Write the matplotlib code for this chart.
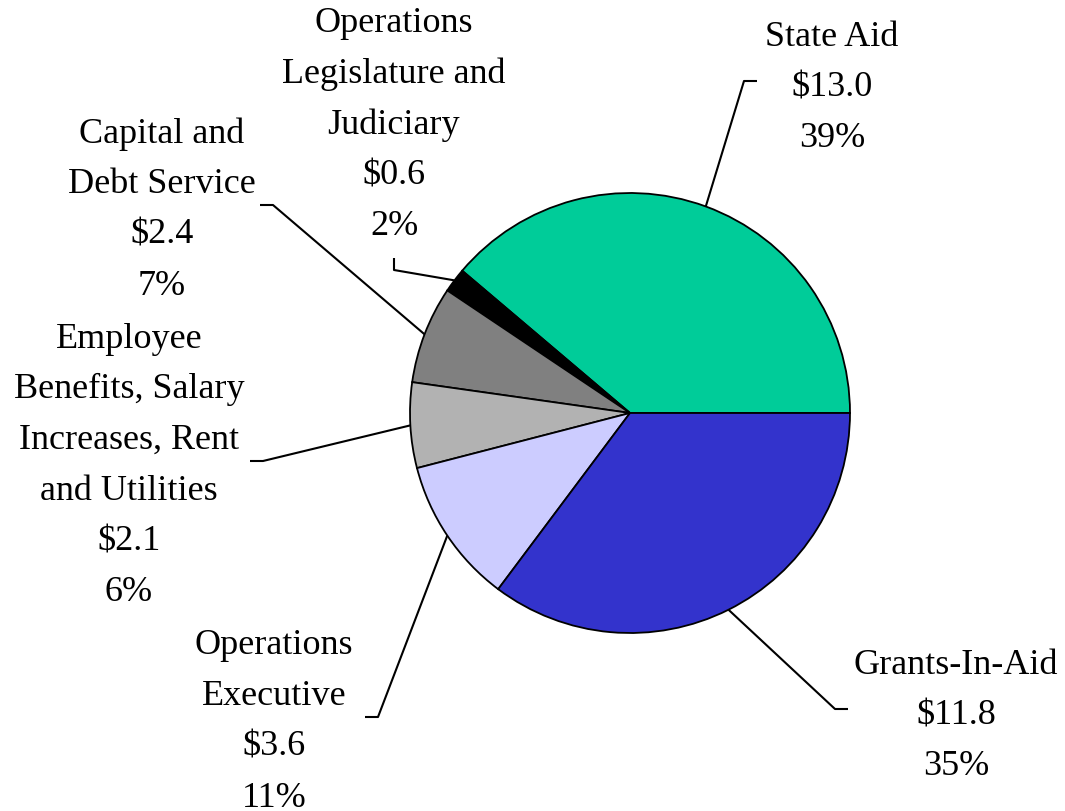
import numpy as np
import matplotlib
matplotlib.use('Agg')
import matplotlib.pyplot as plt

plt.rcParams.update({"font.family": "serif",
                     "font.serif": ["Liberation Serif", "DejaVu Serif"]})

# --- data (billions) ---
names = ["State Aid", "Operations\nLegislature and\nJudiciary",
         "Capital and\nDebt Service",
         "Employee\nBenefits, Salary\nIncreases, Rent\nand Utilities",
         "Operations\nExecutive", "Grants-In-Aid"]
values = [13.0, 0.6, 2.4, 2.1, 3.6, 11.8]
pcts = [39, 2, 7, 6, 11, 35]
colors = ['#00CC99', '#000000', '#808080', '#B2B2B2', '#CCCCFF', '#3333CC']

# layout in pixel space (y measured from top)
W, H = 1065, 811
cx, cy, R = 630, 413, 220
# label text centre (x, y of first line) and leader elbow (x, y, dx, dy)
label_pos = [(832, 37), (394, 24), (162, 134), (129, 339), (274, 646), (956, 665)]
elbows = [(744, 81, 13, 0), (394, 270, 0, -12), (273, 205, -13, 0),
          (263, 461, -13, 0), (378, 717, -13, 0), (835, 709, 13, 0)]

fig = plt.figure(figsize=(W / 100, H / 100), dpi=100)
ax = fig.add_axes([0, 0, 1, 1])

wedges, _ = ax.pie(values, colors=colors, startangle=0, counterclock=True,
                   center=(cx, H - cy), radius=R,
                   wedgeprops=dict(edgecolor='black', linewidth=1.3))
ax.set_xlim(0, W)
ax.set_ylim(0, H)
ax.set_aspect('equal')
ax.axis('off')

for w, name, v, p, (lx, ly), (ex, ey, dx, dy) in zip(wedges, names, values, pcts,
                                                       label_pos, elbows):
    # leader line from wedge mid-angle on the rim to the label
    mid = np.deg2rad((w.theta1 + w.theta2) / 2)
    xs = [cx + R * np.cos(mid), ex, ex + dx]
    ys = [H - cy + R * np.sin(mid), H - ey, H - (ey + dy)]
    ax.plot(xs, ys, color='black', lw=1.5, solid_capstyle='butt')
    lines = name.split("\n") + [f"${v:.1f}", f"{p}%"]
    for i, t in enumerate(lines):
        ax.text(lx, H - (ly + 50.7 * i), t, ha='center', va='center',
                fontsize=26, color='black')

fig.savefig('out.png', dpi=100, facecolor='white')
